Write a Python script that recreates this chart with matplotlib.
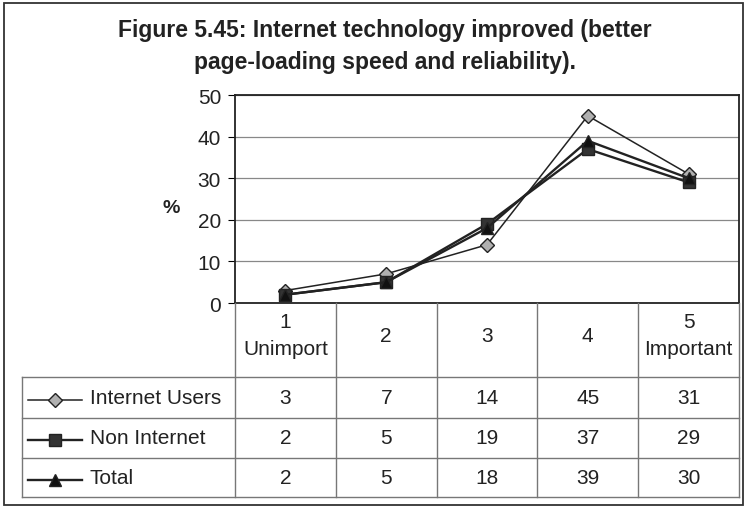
import matplotlib.pyplot as plt
from matplotlib.lines import Line2D
from matplotlib.patches import Rectangle

# data
categories = ["1\nUnimport", "2", "3", "4", "5\nImportant"]
series_names = ["Internet Users", "Non Internet", "Total"]
internet_users = [3, 7, 14, 45, 31]
non_internet = [2, 5, 19, 37, 29]
total = [2, 5, 18, 39, 30]
series_values = [internet_users, non_internet, total]

W, H = 746, 510
markers = ["D", "s", "^"]
marker_fill = ["#b0b0b0", "#333333", "#111111"]
marker_size = [7, 8, 8]
line_w = [1.1, 1.7, 1.7]


def fx(x):
    return x / W


def fy(y):
    return 1 - y / H


fig = plt.figure(figsize=(W / 100, H / 100), dpi=100)
plt.rcParams['font.family'] = ['Liberation Sans', 'DejaVu Sans']

# outer frame
fig.add_artist(Rectangle((fx(4), fy(506)), fx(739), 502 / H, transform=fig.transFigure,
                         fill=False, lw=1.3, ec="#333333"))

fig.text(fx(385), fy(31), "Figure 5.45: Internet technology improved (better",
         ha="center", va="center", fontsize=16.5, fontweight="bold", color="#222222")
fig.text(fx(385), fy(62), "page-loading speed and reliability).",
         ha="center", va="center", fontsize=16.5, fontweight="bold", color="#222222")

# plot area
left, right, top, bottom = 235, 739, 96, 304
ax = fig.add_axes([fx(left), fy(bottom), fx(right - left), (bottom - top) / H])
x = list(range(len(categories)))
for vals, m, fc, ms, lw in zip(series_values, markers, marker_fill, marker_size, line_w):
    ax.plot(x, vals, color="#222222", lw=lw, marker=m, markersize=ms,
            markerfacecolor=fc, markeredgecolor="#222222", zorder=3, clip_on=False)
ax.set_xlim(-0.5, len(categories) - 0.5)
ax.set_ylim(0, 50)
ax.set_yticks(range(0, 51, 10))
ax.set_xticks([])
ax.yaxis.grid(True, color="#888888", lw=0.9)
ax.set_axisbelow(True)
ax.tick_params(axis="y", labelsize=15, length=5, pad=5, labelcolor="#222222")
for s in ax.spines.values():
    s.set_color("#222222")
    s.set_linewidth(1.3)
fig.text(fx(171), fy(209), "%", ha="center", va="center", fontsize=14, fontweight="bold",
         color="#222222")

# data table below the plot
col_edges = [left + i * (right - left) / len(categories) for i in range(len(categories) + 1)]
row_edges = [304, 378, 419, 459, 498]
legend_left = 22
lc = "#777777"
for xe in col_edges:
    fig.add_artist(Line2D([fx(xe), fx(xe)], [fy(row_edges[0]), fy(row_edges[-1])], color=lc, lw=1))
fig.add_artist(Line2D([fx(legend_left), fx(legend_left)], [fy(row_edges[1]), fy(row_edges[-1])],
                      color=lc, lw=1))
for ye in row_edges[1:]:
    fig.add_artist(Line2D([fx(legend_left), fx(right)], [fy(ye), fy(ye)], color=lc, lw=1))

for i, cat in enumerate(categories):
    cx = (col_edges[i] + col_edges[i + 1]) / 2
    fig.text(fx(cx), fy(336), cat, ha="center", va="center",
             fontsize=15, linespacing=1.5, color="#222222")

for r, (name, vals) in enumerate(zip(series_names, series_values)):
    cy = (row_edges[r + 1] + row_edges[r + 2]) / 2
    fig.add_artist(Line2D([fx(28), fx(82)], [fy(cy + 2), fy(cy + 2)], color="#222222",
                          lw=line_w[r]))
    fig.add_artist(Line2D([fx(55)], [fy(cy + 2)], marker=markers[r], markersize=marker_size[r],
                          markerfacecolor=marker_fill[r], markeredgecolor="#222222", lw=0))
    fig.text(fx(90), fy(cy), name, ha="left", va="center", fontsize=15, color="#222222")
    for i, v in enumerate(vals):
        cx = (col_edges[i] + col_edges[i + 1]) / 2
        fig.text(fx(cx), fy(cy), str(v), ha="center", va="center", fontsize=15,
                 color="#222222")

fig.savefig("out.png", dpi=100)
